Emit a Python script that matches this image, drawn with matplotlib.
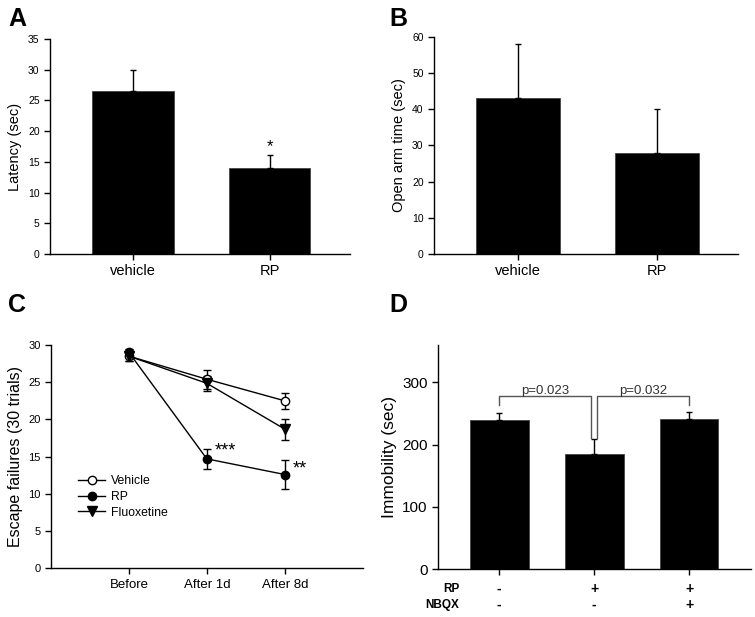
import matplotlib
matplotlib.use("Agg")
import matplotlib.pyplot as plt
from matplotlib.lines import Line2D
import numpy as np

plt.rcParams['font.family'] = ['Liberation Sans', 'DejaVu Sans']

# ---------------- data ----------------
a_groups = ['vehicle', 'RP']
a_mean = [26.6, 13.95]
a_err = [3.3, 2.1]

b_groups = ['vehicle', 'RP']
b_mean = [43.2, 28.0]
b_err = [14.7, 11.9]

c_labels = ['Before', 'After 1d', 'After 8d']
c_vehicle = [28.5, 25.4, 22.5]
c_vehicle_err = [0.6, 1.3, 1.1]
c_rp = [29.0, 14.7, 12.6]
c_rp_err = [0.4, 1.35, 2.0]
c_fluox = [28.5, 24.85, 18.7]
c_fluox_err = [0.7, 1.0, 1.4]

d_mean = [239.6, 185.6, 242.0]
d_err = [10.5, 23.0, 11.0]
d_rp = ['-', '+', '+']
d_nbqx = ['-', '-', '+']
d_pvals = ['p=0.023', 'p=0.032']

W, H = 755, 617
fig = plt.figure(figsize=(W / 100, H / 100), dpi=100)


def style(ax):
    for s in ['top', 'right']:
        ax.spines[s].set_visible(False)
    for s in ['left', 'bottom']:
        ax.spines[s].set_linewidth(1.0)
    ax.tick_params(direction='out', length=4, width=1.0)


def axes_px(x0, x1, ytop, ybot):
    return fig.add_axes([x0 / W, 1 - ybot / H, (x1 - x0) / W, (ybot - ytop) / H])


# ---------------- A ----------------
axA = axes_px(50, 350, 39, 254)
style(axA)
xa = np.arange(len(a_groups))
axA.bar(xa, a_mean, width=0.6, color='black', edgecolor='#444444', linewidth=0.6)
axA.errorbar(xa, a_mean, yerr=[np.zeros(len(a_err)), a_err], fmt='none',
             ecolor='black', elinewidth=1.0, capsize=2.5, capthick=1.0)
axA.set_xlim(-0.61, 1.59)
axA.set_ylim(0, 35)
axA.set_yticks(range(0, 36, 5))
axA.set_xticks(xa)
axA.set_xticklabels(a_groups, fontsize=10.5)
axA.tick_params(axis='y', labelsize=7.5)
axA.set_ylabel('Latency (sec)', fontsize=10.5)
axA.text(1, a_mean[1] + a_err[1] + 0.2, '*', ha='center', va='bottom', fontsize=12)
fig.text(8 / W, 1 - 26 / H, 'A', fontsize=18, fontweight='bold')

# ---------------- B ----------------
axB = axes_px(434, 738, 36.7, 254)
style(axB)
xb = np.arange(len(b_groups))
axB.bar(xb, b_mean, width=0.6, color='black', edgecolor='#444444', linewidth=0.6)
axB.errorbar(xb, b_mean, yerr=[np.zeros(len(b_err)), b_err], fmt='none',
             ecolor='black', elinewidth=1.0, capsize=2.5, capthick=1.0)
axB.set_xlim(-0.60, 1.58)
axB.set_ylim(0, 60)
axB.set_yticks(range(0, 61, 10))
axB.set_xticks(xb)
axB.set_xticklabels(b_groups, fontsize=10.5)
axB.tick_params(axis='y', labelsize=7.5)
axB.set_ylabel('Open arm time (sec)', fontsize=10.5)
fig.text(389 / W, 1 - 26 / H, 'B', fontsize=18, fontweight='bold')

# ---------------- C ----------------
axC = axes_px(51, 362.7, 345, 568.3)
style(axC)
xc = np.arange(len(c_labels))
axC.errorbar(xc, c_vehicle, yerr=c_vehicle_err, color='black', lw=1.0, marker='o',
             ms=6, mfc='white', mec='black', capsize=3, elinewidth=1.0, zorder=3)
axC.errorbar(xc, c_rp, yerr=c_rp_err, color='black', lw=1.0, marker='o',
             ms=6, mfc='black', mec='black', capsize=3, elinewidth=1.0, zorder=3)
axC.errorbar(xc, c_fluox, yerr=c_fluox_err, color='black', lw=1.0, marker='v',
             ms=6.5, mfc='black', mec='black', capsize=3, elinewidth=1.0, zorder=3)
axC.set_xlim(-1, 3)
axC.set_ylim(0, 30)
axC.set_yticks(range(0, 31, 5))
axC.set_xticks(xc)
axC.set_xticklabels(c_labels, fontsize=9.5)
axC.tick_params(axis='y', labelsize=8)
axC.set_ylabel('Escape failures (30 trials)', fontsize=11.5)
axC.text(1.1, c_rp[1] + 1.1, '***', ha='left', va='center', fontsize=13)
axC.text(2.1, c_rp[2] + 0.8, '**', ha='left', va='center', fontsize=13)
handles = [
    Line2D([], [], color='black', lw=1.0, marker='o', ms=6, mfc='white', mec='black'),
    Line2D([], [], color='black', lw=1.0, marker='o', ms=6, mfc='black', mec='black'),
    Line2D([], [], color='black', lw=1.0, marker='v', ms=6.5, mfc='black', mec='black'),
]
axC.legend(handles, ['Vehicle', 'RP', 'Fluoxetine'], loc='upper left',
           bbox_to_anchor=(0.06, 0.455), frameon=False, fontsize=8.8,
           handlelength=2.2, labelspacing=0.3, borderpad=0.2, handletextpad=0.5)
fig.text(8 / W, 1 - 312 / H, 'C', fontsize=18, fontweight='bold')

# ---------------- D ----------------
axD = axes_px(438, 750.7, 345, 569.3)
style(axD)
xd = np.arange(len(d_mean))
axD.bar(xd, d_mean, width=0.62, color='black', edgecolor='#444444', linewidth=0.6)
axD.errorbar(xd, d_mean, yerr=[np.zeros(len(d_err)), d_err], fmt='none',
             ecolor='black', elinewidth=1.0, capsize=2.5, capthick=1.0)
axD.set_xlim(-0.645, 2.65)
axD.set_ylim(0, 360)
axD.set_yticks([0, 100, 200, 300])
axD.set_xticks(xd)
axD.set_xticklabels([])
axD.tick_params(axis='y', labelsize=11)
axD.set_ylabel('Immobility (sec)', fontsize=12.5)

# significance brackets
ytop = 278.6
bc = '#555555'
axD.plot([0, 0, 1 - 0.03, 1 - 0.03], [263.6, ytop, ytop, 210], color=bc, lw=1.0)
axD.plot([1 + 0.03, 1 + 0.03, 2, 2], [210, ytop, ytop, 263.6], color=bc, lw=1.0)
axD.text(0.48, ytop - 2, d_pvals[0], ha='center', va='bottom', fontsize=9.5, color='#333333')
axD.text(1.52, ytop - 2, d_pvals[1], ha='center', va='bottom', fontsize=9.5, color='#333333')

tr = axD.get_xaxis_transform()
axD.text(-0.42, -0.088, 'RP', transform=tr, ha='right', va='center', fontsize=8.5, fontweight='bold')
axD.text(-0.42, -0.159, 'NBQX', transform=tr, ha='right', va='center', fontsize=8.5, fontweight='bold')
for i in range(len(d_mean)):
    axD.text(xd[i], -0.088, d_rp[i], transform=tr, ha='center', va='center', fontsize=10, fontweight='bold')
    axD.text(xd[i], -0.159, d_nbqx[i], transform=tr, ha='center', va='center', fontsize=10, fontweight='bold')
fig.text(389 / W, 1 - 312 / H, 'D', fontsize=18, fontweight='bold')

fig.savefig('out.png', dpi=100)
